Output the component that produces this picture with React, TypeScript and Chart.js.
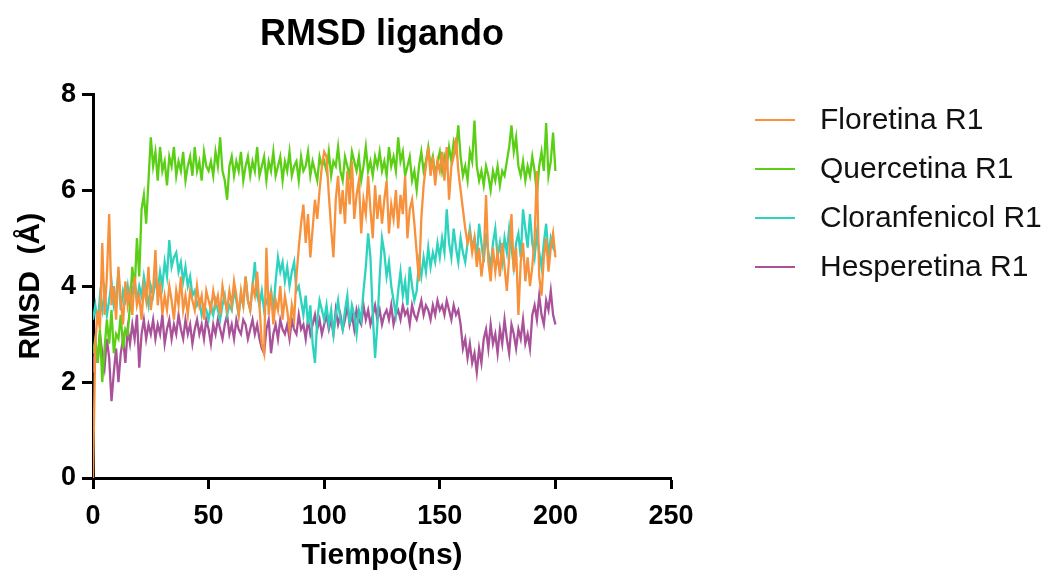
import React, { useEffect, useRef } from "react";
import { Chart, registerables } from "chart.js";

Chart.register(...registerables);

const FONT = "'Liberation Sans', Arial, Helvetica, sans-serif";

const seriesNames = ["Floretina R1", "Quercetina R1", "Cloranfenicol R1", "Hesperetina R1"];
const seriesColors = ["#F7913C", "#5BCF16", "#2ED3BE", "#A9529A"];

const xTicks = [0, 50, 100, 150, 200, 250];
const yTicks = [0, 2, 4, 6, 8];

// RMSD values, one per ns from 0 to 200 ns
const floretina = [
  0,
  2.8, 3.5, 3.1, 4.9, 3.4, 4.2, 5.5, 3.6, 4.0, 3.3, 4.4, 3.7, 3.2, 4.1, 3.6,
  3.9, 3.4, 4.2, 3.6, 3.8, 3.3, 4.0, 3.7, 4.4, 3.5,
  3.9, 4.75, 3.6, 4.1, 3.4, 3.8, 3.5, 4.0, 3.7, 3.3, 3.9, 3.6, 4.2, 3.5, 3.8, 3.4, 3.9, 3.7, 3.5, 4.0, 3.6, 3.8, 3.3, 3.9, 3.7,
  3.5, 3.9, 3.6, 3.8, 3.4, 4.0, 3.7, 3.5, 3.9, 3.6, 4.1, 3.8, 3.4, 3.9, 3.6, 4.2, 3.7, 3.5, 4.0, 3.8, 4.3, 3.6, 2.8, 2.6, 4.8,
  3.4, 3.9, 3.2, 3.7, 3.5, 4.0, 3.3, 3.8, 3.5, 3.1, 3.6, 3.3, 4.2, 4.8, 5.3, 5.7, 4.9, 5.5, 4.6, 5.2, 5.8, 5.4, 6.0, 6.5, 6.8,
  6.7, 5.9, 5.2, 4.6, 5.8, 6.3, 5.5, 6.0, 5.3, 6.4, 5.7, 6.6, 5.4, 5.9, 6.2, 5.1, 5.8, 5.5, 6.3, 5.6, 5.0, 6.1, 5.4, 5.9, 5.3,
  5.8, 6.2, 5.1, 5.7, 5.4, 6.0, 5.2, 5.9, 5.5, 6.3, 5.0, 5.6, 5.8, 5.3, 4.7, 4.1, 5.4, 6.1, 6.5, 6.9, 6.3, 6.7, 6.1, 6.6, 6.4,
  6.8, 6.2, 6.9, 5.8, 6.5, 6.7, 7.1, 6.4, 6.0, 5.6, 5.2, 4.9, 5.1, 4.7, 5.0, 4.4, 4.8, 4.2, 4.6, 5.9, 4.5, 4.1, 4.8, 4.3, 4.7,
  4.2, 4.9, 4.4, 3.9, 4.6, 5.5, 4.3, 4.8, 3.4, 4.5, 4.9, 4.1, 4.6, 4.0, 4.4, 5.0, 6.4, 4.2, 3.8, 4.6, 5.0, 4.3, 4.8, 5.1, 4.6,
];

const quercetina = [
  2.6,
  2.9, 2.4, 3.1, 2.0, 2.7, 3.3, 2.8, 3.5, 2.6, 3.0, 2.9, 3.4, 2.7, 3.1, 3.0,
  3.6, 4.4, 3.9, 5.0, 4.2, 5.6, 5.9, 5.3, 6.2, 7.1,
  6.5, 6.8, 6.2, 6.9, 6.4, 6.6, 6.1, 6.7, 6.5, 6.9, 6.3, 6.6, 6.4, 6.8, 6.2, 6.5, 6.7, 6.3, 6.9, 6.4, 6.6, 6.2, 6.8, 6.5, 6.4,
  6.6, 6.3, 6.8, 6.5, 7.1, 6.4, 6.2, 5.8, 6.5, 6.7, 6.3, 6.6, 6.4, 6.8, 6.2, 6.5, 6.7, 6.3, 6.6, 6.4, 6.9, 6.3, 6.5, 6.7, 6.2,
  6.6, 6.4, 6.8, 6.3, 6.5, 6.7, 6.2, 6.6, 6.4, 6.8, 6.3, 6.5, 6.6, 6.2, 6.7, 6.4, 6.5, 6.8, 6.3, 6.6, 6.4, 6.2, 6.7, 6.5, 6.6,
  6.4, 6.8, 6.3, 6.6, 6.5, 6.9, 6.4, 6.2, 6.7, 6.5, 6.3, 6.8, 6.6, 6.4, 6.7, 6.2, 6.5, 6.9, 6.4, 6.6, 6.3, 6.7, 6.5, 6.8, 6.4,
  6.6, 6.3, 6.9, 6.5, 6.7, 6.4, 7.1, 6.6, 6.8, 6.3, 6.5, 6.7, 6.2, 6.4, 6.0, 6.5, 6.8, 6.4, 6.6, 6.9, 6.5, 6.7, 6.3, 6.6, 6.8,
  6.4, 6.7, 6.5, 6.9, 6.6, 7.0, 6.8, 7.35, 6.7, 6.3, 6.5, 6.2, 6.8, 6.6, 7.45, 6.5, 6.2, 6.4, 6.1, 6.5, 6.3, 6.0, 6.4, 6.2, 6.5,
  6.1, 6.4, 6.3, 6.6, 6.9, 7.35, 6.8, 7.1, 6.5, 6.3, 6.6, 6.2, 6.5, 6.3, 6.7, 6.4, 5.9, 6.5, 6.8, 6.4, 7.4, 6.3, 6.6, 7.2, 6.4,
];

const cloranfenicol = [
  3.3,
  3.6, 3.2, 3.8, 3.5, 3.9, 3.4, 3.7, 4.1, 3.6, 3.8, 4.3, 3.5, 3.9, 3.7, 4.0,
  3.6, 3.9, 4.1, 3.7, 4.0, 3.8, 4.2, 3.9, 3.6, 4.0,
  3.8, 4.1, 3.9, 4.3, 4.0, 4.5, 4.2, 4.96, 4.4, 4.6, 4.7, 4.3, 4.5, 4.1, 4.4, 4.0, 4.2, 3.8, 3.9, 3.6, 3.7, 3.4, 3.6, 3.5, 3.3,
  3.6, 3.4, 3.7, 3.5, 3.3, 3.6, 3.8, 3.4, 3.6, 3.5, 3.9, 3.7, 3.4, 3.8, 3.6, 4.2, 3.7, 3.5, 4.0, 4.5, 3.8, 3.6, 3.9, 3.5, 3.7,
  3.6, 3.9, 3.5, 4.1, 4.6, 4.3, 4.5, 4.1, 4.4, 4.0, 4.3, 4.5, 3.9, 4.0, 3.7, 3.4, 3.8, 3.2, 3.6, 2.8, 2.4, 3.3, 3.7, 3.5, 3.3,
  3.6, 3.2, 3.5, 3.0, 3.4, 3.7, 3.3, 3.1, 3.5, 3.8, 3.2, 3.6, 3.4, 3.0, 3.5, 3.3, 3.9, 4.4, 5.1, 4.6, 3.4, 2.5, 3.2, 4.2, 5.0,
  4.7, 4.2, 4.5, 4.0, 3.7, 3.4, 3.9, 4.3, 3.8, 4.1, 3.6, 4.4, 4.0, 3.7, 3.9, 4.5, 4.2, 4.6, 4.3, 4.8, 4.4, 4.7, 4.5, 4.9, 4.6,
  5.0, 4.7, 5.6, 4.9, 4.6, 5.2, 4.8, 4.5, 5.0, 4.7, 4.5, 4.9, 5.2, 4.8, 5.0, 4.6, 5.3, 4.9, 4.5, 5.1, 4.7, 4.4, 4.9, 5.2, 4.6,
  4.9, 4.5, 5.0, 4.7, 5.2, 4.8, 4.4, 4.9, 5.1, 4.6, 5.6, 5.2, 4.8, 5.5, 4.9, 4.6, 5.1, 4.7, 4.4, 4.9, 5.3, 4.6, 5.0, 4.8, 4.7,
];

const hesperetina = [
  2.2,
  2.8, 2.4, 3.0, 2.6, 2.3, 2.9, 2.5, 1.6, 2.2, 2.7, 2.0, 2.6, 2.9, 2.4, 3.1,
  2.8, 3.2, 2.9, 3.4, 2.3, 3.0, 3.3, 2.9, 3.2, 3.0,
  3.3, 2.9, 3.2, 3.0, 3.4, 2.8, 3.1, 3.3, 2.9, 3.2, 3.0, 3.4, 3.1, 2.9, 3.3, 3.0, 3.2, 2.8, 3.1, 3.3, 3.0, 3.2, 2.9, 3.3, 3.1,
  2.8, 3.2, 3.0, 3.3, 3.1, 2.9, 3.2, 3.4, 3.0, 3.2, 2.9, 3.3, 3.1, 3.0, 3.3, 3.2, 2.9, 3.1, 3.3, 3.0, 3.2, 2.9, 2.7, 2.6, 3.1,
  3.3, 2.6, 3.0, 3.2, 2.9, 3.3, 3.1, 3.0, 3.2, 2.9, 3.3, 3.1, 3.0, 3.4, 3.1, 3.2, 2.9, 3.3, 3.0, 3.2, 3.4, 3.1, 3.3, 3.0, 3.2,
  3.4, 3.1, 3.3, 3.0, 3.5, 3.2, 3.4, 3.1, 3.3, 3.6, 3.2, 3.4, 3.1, 3.5, 3.3, 3.2, 3.6, 3.3, 3.5, 3.2, 3.4, 3.6, 3.3, 3.5, 3.2,
  3.4, 3.5, 3.3, 3.6, 3.2, 3.4, 3.5, 3.3, 3.6, 3.4, 3.5, 3.2, 3.6, 3.4, 3.3, 3.5, 3.7, 3.4, 3.6, 3.5, 3.3, 3.6, 3.4, 3.7, 3.5,
  3.6, 3.4, 3.7, 3.5, 3.3, 3.6, 3.4, 3.5, 3.2, 2.7, 2.9, 2.5, 2.8, 2.4, 2.6, 2.2, 2.7, 2.4, 2.9, 3.1, 2.7, 3.2, 2.8, 3.0, 2.6,
  3.1, 2.8, 3.3, 2.9, 2.6, 3.2, 3.0, 2.7, 3.1, 2.9, 3.3, 2.8, 3.0, 2.7, 3.4, 3.6, 3.3, 3.8, 3.4, 3.2, 3.7, 3.5, 3.9, 3.4, 3.2,
];

const allSeries = [floretina, quercetina, cloranfenicol, hesperetina];

const legendPlugin = {
  id: "sideLegend",
  afterDraw(chart: any) {
    const ctx = chart.ctx;
    ctx.save();
    chart.data.datasets.forEach((ds: any, i: number) => {
      const y = 120 + i * 49;
      ctx.strokeStyle = ds.borderColor;
      ctx.lineWidth = 2;
      ctx.beginPath();
      ctx.moveTo(755, y);
      ctx.lineTo(795, y);
      ctx.stroke();
      ctx.fillStyle = "#111";
      ctx.font = `30px ${FONT}`;
      ctx.textAlign = "left";
      ctx.textBaseline = "middle";
      ctx.fillText(ds.label, 820, y + 1);
    });
    ctx.restore();
  },
};

export default function App() {
  const ref = useRef<HTMLCanvasElement | null>(null);

  useEffect(() => {
    document.body.style.margin = "0";
    const canvas = ref.current;
    if (!canvas) return;
    const datasets = allSeries.map((vals, si) => ({
      label: seriesNames[si],
      data: vals.map((v, i) => ({ x: i, y: v })),
      borderColor: seriesColors[si],
      backgroundColor: seriesColors[si],
      borderWidth: 2.3,
      pointRadius: 0,
      tension: 0,
      fill: false,
    }));
    const chart = new Chart(canvas, {
      type: "line",
      data: { datasets },
      options: {
        animation: false,
        responsive: false,
        maintainAspectRatio: false,
        layout: { padding: { left: 0, right: 381, top: 0, bottom: 0 } },
        plugins: {
          legend: { display: false },
          tooltip: { enabled: false },
          title: {
            display: true,
            text: "RMSD ligando",
            fullSize: false,
            color: "#000",
            font: { family: FONT, size: 36, weight: "bold" },
            padding: { top: 13, bottom: 38 },
          },
        },
        scales: {
          x: {
            type: "linear",
            min: 0,
            max: 250,
            afterBuildTicks: (s: any) => {
              s.ticks = xTicks.map((v) => ({ value: v }));
            },
            afterFit: (s: any) => {
              s.height = 102;
            },
            ticks: {
              color: "#000",
              font: { family: FONT, size: 27, weight: "bold" },
              padding: 11,
              maxRotation: 0,
            },
            grid: {
              drawOnChartArea: false,
              drawTicks: true,
              tickLength: 11,
              tickWidth: 3,
              tickColor: "#000",
            },
            border: { display: true, color: "#000", width: 3 },
            title: {
              display: true,
              text: "Tiempo(ns)",
              color: "#000",
              font: { family: FONT, size: 30, weight: "bold" },
              padding: { top: 0, bottom: 6 },
            },
          },
          y: {
            type: "linear",
            min: 0,
            max: 8,
            afterBuildTicks: (s: any) => {
              s.ticks = yTicks.map((v) => ({ value: v }));
            },
            afterFit: (s: any) => {
              s.width = 93;
            },
            ticks: {
              color: "#000",
              font: { family: FONT, size: 27, weight: "bold" },
              padding: 6,
            },
            grid: {
              drawOnChartArea: false,
              drawTicks: true,
              tickLength: 11,
              tickWidth: 3,
              tickColor: "#000",
            },
            border: { display: true, color: "#000", width: 3 },
            title: {
              display: true,
              text: "RMSD  (Å)",
              color: "#000",
              font: { family: FONT, size: 30, weight: "bold" },
              padding: { top: 13, bottom: 0 },
            },
          },
        },
      },
      plugins: [legendPlugin],
    });
    return () => chart.destroy();
  }, []);

  return (
    <div style={{ width: 1052, height: 580, position: "relative" }}>
      <canvas ref={ref} width={1052} height={580} style={{ display: "block" }} />
    </div>
  );
}
